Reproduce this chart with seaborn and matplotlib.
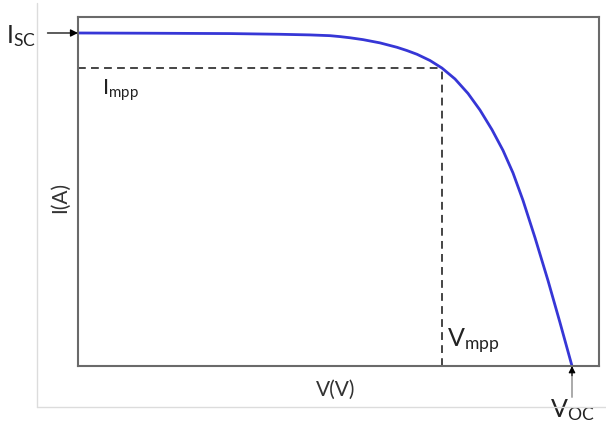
import matplotlib
matplotlib.use("Agg")
import matplotlib.pyplot as plt
import seaborn as sns
import pandas as pd
from matplotlib.lines import Line2D

# ---- data ----
voltage = [0.0, 3.040, 6.418, 8.530, 9.796, 10.641, 11.063, 11.485, 12.034,
           12.752, 13.470, 13.892, 14.315, 14.864, 15.370, 15.919, 16.468,
           16.975, 17.482, 17.946, 18.368, 18.791, 19.297, 19.846, 20.353, 20.860]
current = [5.725, 5.721, 5.715, 5.703, 5.692, 5.679, 5.663, 5.643, 5.611,
           5.555, 5.479, 5.423, 5.359, 5.252, 5.122, 4.935, 4.686,
           4.400, 4.062, 3.707, 3.320, 2.847, 2.207, 1.470, 0.746, 0.0]
i_sc = 5.725
v_oc = 20.86
v_mpp = 15.37
i_mpp = 5.12
x_label = "V(V)"
y_label = "I(A)"
lbl_isc = r"$\mathrm{I}_{\mathrm{SC}}$"
lbl_impp = r"$\mathrm{I}_{\mathrm{mpp}}$"
lbl_vmpp = r"$\mathrm{V}_{\mathrm{mpp}}$"
lbl_voc = r"$\mathrm{V}_{\mathrm{OC}}$"

sns.set_theme(style="white")
plt.rcParams["font.family"] = ["Lato", "DejaVu Sans"]
plt.rcParams["mathtext.fontset"] = "custom"
plt.rcParams["mathtext.rm"] = "Lato"
plt.rcParams["mathtext.it"] = "Lato:italic"
plt.rcParams["mathtext.bf"] = "Lato:bold"

df = pd.DataFrame({"V": voltage, "I": current})

fig = plt.figure(figsize=(6.06, 4.29), dpi=100)
ax = fig.add_axes([78 / 606, 63 / 429, 521 / 606, 349 / 429])

sns.lineplot(data=df, x="V", y="I", ax=ax, color="#3636d6", linewidth=2.0,
             estimator=None, sort=False)
for ln in ax.get_lines():
    ln.set_solid_joinstyle("round")
    ln.set_solid_capstyle("round")

ax.set_xlim(0, 22)
ax.set_ylim(0, 6)
ax.set_xticks([])
ax.set_yticks([])
for s in ax.spines.values():
    s.set_color("#6a6a6a")
    s.set_linewidth(1.5)

# dashed guides to the maximum power point
dash = (0, (4, 2.7))
ax.plot([0, v_mpp], [i_mpp, i_mpp], color="#444444", lw=1.4, linestyle=dash)
ax.plot([v_mpp, v_mpp], [0, i_mpp], color="#444444", lw=1.4, linestyle=dash)

ax.set_xlabel(x_label, fontsize=15, color="#333333")
ax.set_ylabel(y_label, fontsize=15, color="#333333")
ax.xaxis.set_label_coords(0.495, -0.040)
ax.yaxis.set_label_coords(-0.016, 0.484)

# Isc arrow and label
ax.annotate("", xy=(0, i_sc), xycoords="data",
            xytext=(-22, 0), textcoords="offset points",
            arrowprops=dict(arrowstyle="-|>", color="black", lw=0.9,
                            mutation_scale=11, shrinkA=0, shrinkB=0),
            annotation_clip=False)
ax.annotate(lbl_isc, xy=(0, i_sc), xycoords="data",
            xytext=(-30.5, -2), textcoords="offset points",
            ha="right", va="center", fontsize=18, color="#222222",
            annotation_clip=False)

# Impp label
ax.annotate(lbl_impp, xy=(0, i_mpp), xycoords="data",
            xytext=(17, -6.5), textcoords="offset points",
            ha="left", va="top", fontsize=15.5, color="#222222")

# Vmpp label
ax.annotate(lbl_vmpp, xy=(v_mpp, 0), xycoords="data",
            xytext=(3.6, 13.7), textcoords="offset points",
            ha="left", va="baseline", fontsize=18, color="#222222")

# Voc arrow and label
ax.annotate("", xy=(v_oc, 0), xycoords="data",
            xytext=(0, -22.5), textcoords="offset points",
            arrowprops=dict(arrowstyle="-", color="#888888", lw=1.0,
                            shrinkA=0, shrinkB=0),
            annotation_clip=False)
ax.annotate("", xy=(v_oc, 0), xycoords="data",
            xytext=(0, -7), textcoords="offset points",
            arrowprops=dict(arrowstyle="-|>", color="black", lw=0.8,
                            mutation_scale=10, shrinkA=0, shrinkB=0),
            annotation_clip=False)
ax.annotate(lbl_voc, xy=(v_oc, 0), xycoords="data",
            xytext=(0, -36.7), textcoords="offset points",
            ha="center", va="baseline", fontsize=18, color="#222222",
            annotation_clip=False)

# faint outer frame
fig.add_artist(Line2D([37 / 606, 37 / 606], [1 - 3 / 429, 1 - 407 / 429],
                      transform=fig.transFigure, color="#dcdcdc", lw=1.0))
fig.add_artist(Line2D([37 / 606, 1.0], [1 - 407 / 429, 1 - 407 / 429],
                      transform=fig.transFigure, color="#dcdcdc", lw=1.0))

fig.savefig("out.png", dpi=100)
